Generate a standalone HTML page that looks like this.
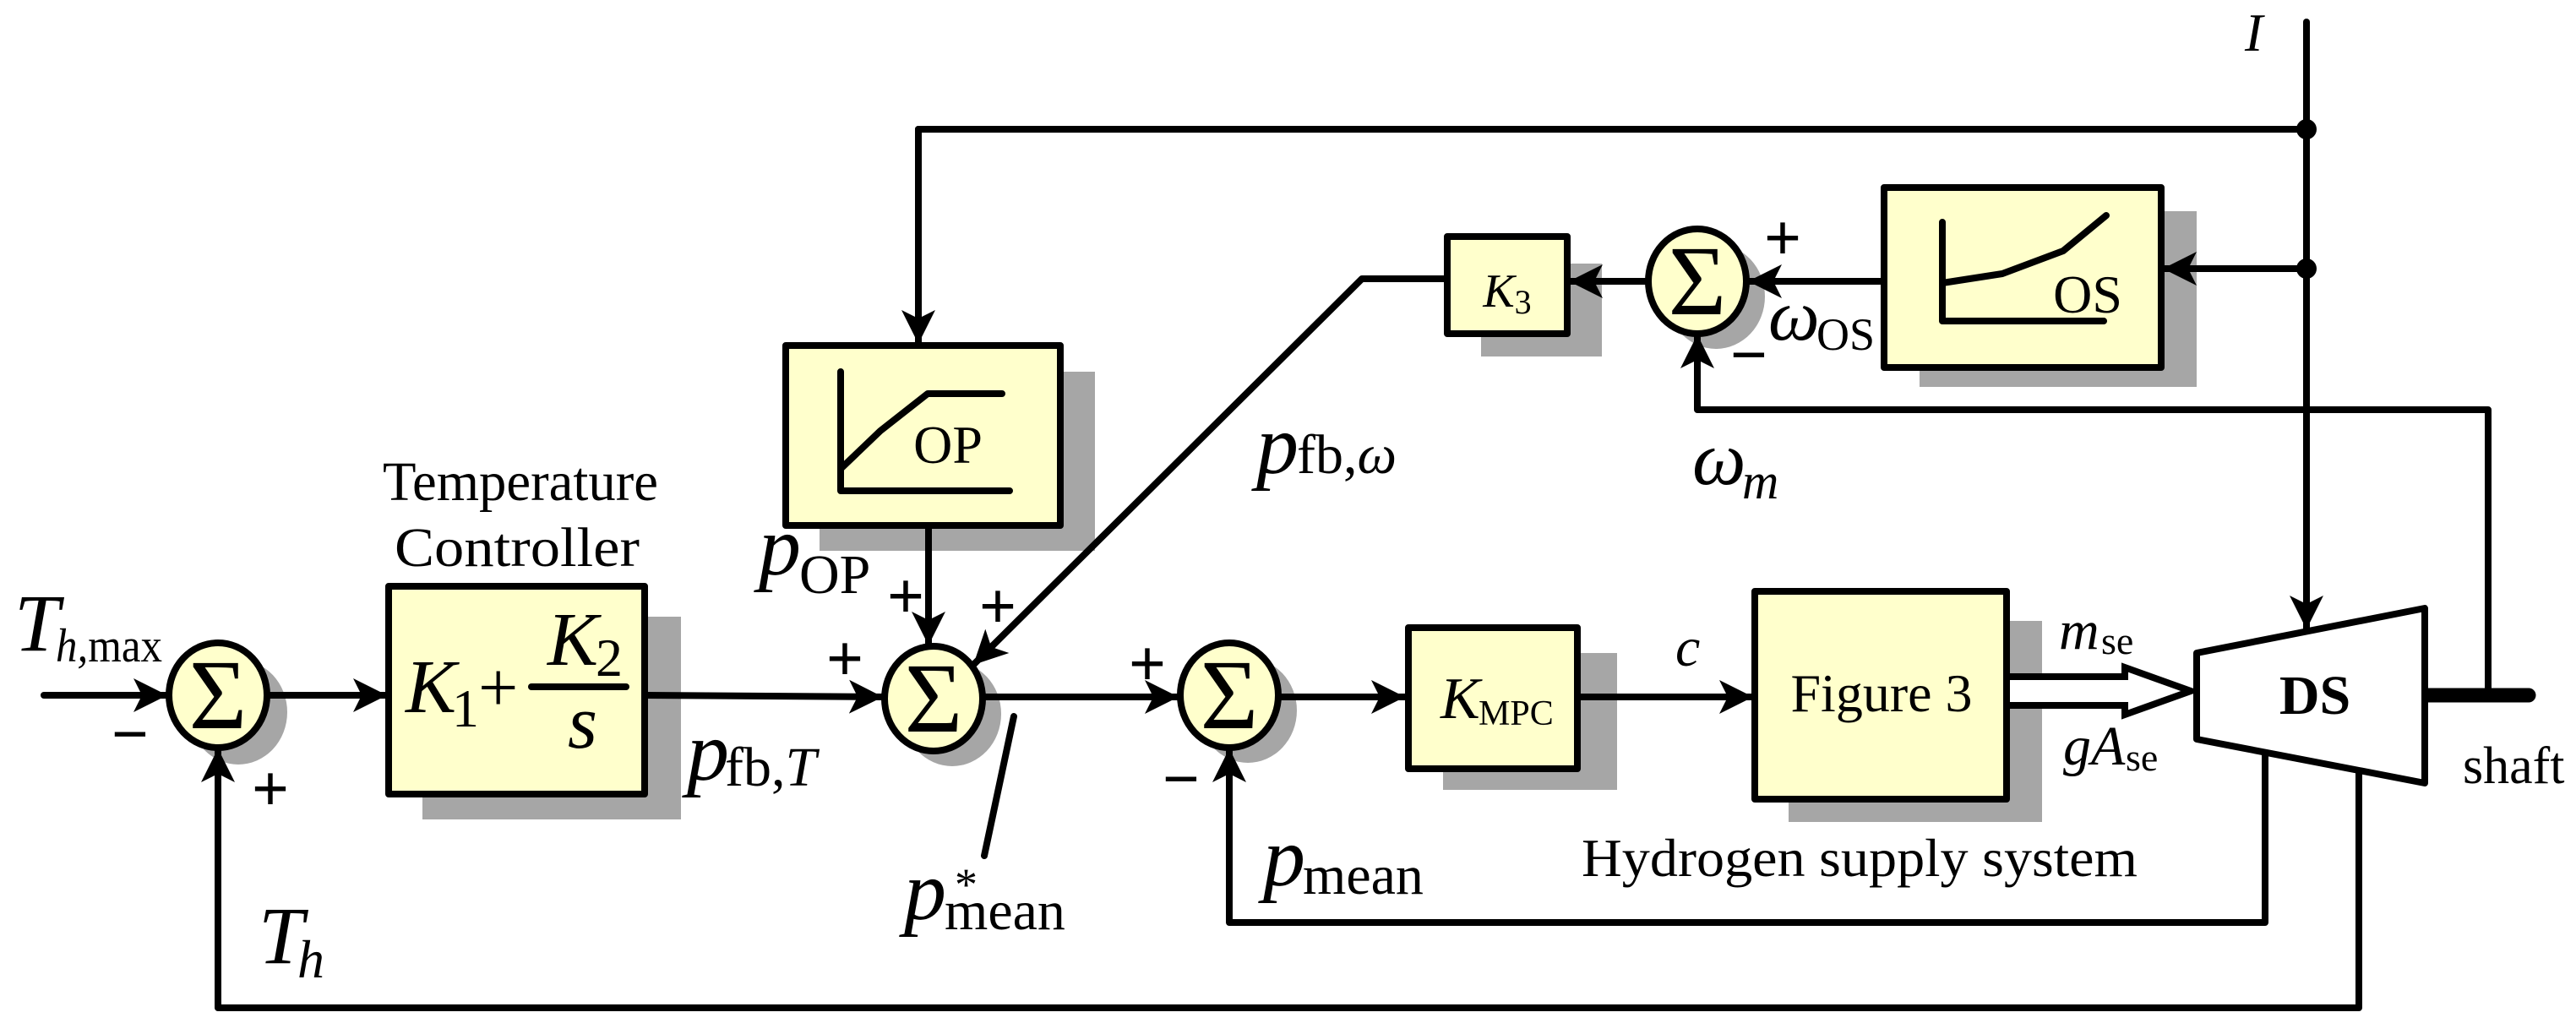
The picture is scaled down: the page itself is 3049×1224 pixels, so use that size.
<!DOCTYPE html>
<html><head><meta charset="utf-8"><style>
html,body{margin:0;padding:0;background:#fff;}
svg{display:block;}
text{font-family:"Liberation Serif",serif;fill:#000;}
.it{font-style:italic;}
.pm{font-family:"Liberation Sans",sans-serif;font-weight:bold;}
</style></head><body>
<svg width="3049" height="1224" viewBox="0 0 3049 1224" xmlns="http://www.w3.org/2000/svg">
<defs>
<marker id="a" viewBox="0 0 40 40" refX="40" refY="20" markerWidth="40" markerHeight="40" markerUnits="userSpaceOnUse" orient="auto">
<path d="M0,0 L40,20 L0,40 L10,20 Z" fill="#000"/>
</marker>
</defs>
<g fill="#a6a6a6">
<rect x="500" y="730" width="306" height="240"/>
<rect x="970" y="440" width="326" height="212"/>
<rect x="1753" y="312" width="143" height="110"/>
<rect x="2272" y="250" width="328" height="208"/>
<rect x="1708" y="773" width="206" height="162"/>
<rect x="2117" y="735" width="300" height="238"/>
<ellipse cx="282" cy="843" rx="58" ry="62"/>
<ellipse cx="1127" cy="845" rx="58" ry="62"/>
<ellipse cx="1477" cy="841" rx="58" ry="62"/>
<ellipse cx="2031" cy="351" rx="58" ry="62"/>
</g>
<g stroke="#000" stroke-width="8" fill="none" stroke-linejoin="round" stroke-linecap="round">
<line x1="52" y1="823" x2="198" y2="823" marker-end="url(#a)"/>
<line x1="318" y1="823" x2="458" y2="823" marker-end="url(#a)"/>
<line x1="765" y1="823" x2="1045" y2="825" marker-end="url(#a)"/>
<line x1="1165" y1="825" x2="1395" y2="825" marker-end="url(#a)"/>
<line x1="1515" y1="825" x2="1663" y2="825" marker-end="url(#a)"/>
<line x1="1869" y1="825" x2="2075" y2="825" marker-end="url(#a)"/>
<polyline points="1087,153 2730,153"/>
<line x1="1087" y1="153" x2="1087" y2="407" marker-end="url(#a)"/>
<line x1="1099" y1="624" x2="1099" y2="764" marker-end="url(#a)"/>
<polyline points="1711,330 1612,330 1152,787" marker-end="url(#a)"/>
<line x1="2730" y1="26" x2="2730" y2="745" marker-end="url(#a)"/>
<line x1="2730" y1="318" x2="2560" y2="318" marker-end="url(#a)"/>
<line x1="2228" y1="333" x2="2069" y2="333" marker-end="url(#a)"/>
<line x1="1950" y1="333" x2="1857" y2="333" marker-end="url(#a)"/>
<polyline points="2945,823 2945,485 2009,485 2009,396" marker-end="url(#a)"/>
<polyline points="2681,891 2681,1092 1455,1092 1455,886" marker-end="url(#a)"/>
<polyline points="2792,912 2792,1193 258,1193 258,886" marker-end="url(#a)"/>
<line x1="1200" y1="848" x2="1165" y2="1013"/>
</g>
<line x1="2870" y1="823" x2="2993" y2="823" stroke="#000" stroke-width="17" stroke-linecap="round"/>
<circle cx="2730" cy="153" r="12" fill="#000"/>
<circle cx="2730" cy="318" r="12" fill="#000"/>
<path d="M2375,801 L2515,801 L2515,790 L2593,818 L2515,846 L2515,835 L2375,835" fill="#fff" stroke="#000" stroke-width="8" stroke-linejoin="miter"/>
<g fill="#ffffcc" stroke="#000" stroke-width="8" stroke-linejoin="round">
<rect x="460" y="694" width="303" height="246"/>
<rect x="930" y="409" width="325" height="213"/>
<rect x="1713" y="280" width="142" height="115"/>
<rect x="2230" y="222" width="328" height="213"/>
<rect x="1667" y="743" width="200" height="167"/>
<rect x="2077" y="700" width="298" height="246"/>
<ellipse cx="258" cy="823" rx="58" ry="62"/>
<ellipse cx="1105" cy="827" rx="58" ry="62"/>
<ellipse cx="1455" cy="823" rx="58" ry="62"/>
<ellipse cx="2009" cy="333" rx="58" ry="62"/>
</g>
<polygon points="2600,773 2870,720 2870,927 2600,875" fill="#fff" stroke="#000" stroke-width="8" stroke-linejoin="round"/>
<g stroke="#000" stroke-width="8" fill="none" stroke-linecap="round" stroke-linejoin="round">
<polyline points="995,440 995,581 1195,581"/>
<polyline points="995,555 1042,510 1098,466 1186,466"/>
<polyline points="2299,263 2299,380 2490,380"/>
<polyline points="2299,335 2370,324 2442,297 2493,255"/>
<line x1="629" y1="813" x2="741" y2="813"/>
</g>
<g font-size="118" text-anchor="middle">
<text x="258" y="862">Σ</text>
<text x="1105" y="866">Σ</text>
<text x="1455" y="862">Σ</text>
<text x="2009" y="372">Σ</text>
</g>
<text x="616" y="592" font-size="66" text-anchor="middle" textLength="326" lengthAdjust="spacingAndGlyphs">Temperature</text>
<text x="612" y="670" font-size="66" text-anchor="middle" textLength="290" lengthAdjust="spacingAndGlyphs">Controller</text>
<text x="480" y="843" font-size="90" class="it">K</text><text x="535" y="860" font-size="64">1</text>
<text x="566" y="842" font-size="84">+</text>
<text x="648" y="787" font-size="90" class="it">K</text><text x="705" y="800" font-size="64">2</text>
<text x="672" y="885" font-size="90" class="it">s</text>
<text x="1122" y="548" font-size="64" text-anchor="middle">OP</text>
<text x="2471" y="370" font-size="64" text-anchor="middle">OS</text>
<text x="1784" y="363" font-size="56" text-anchor="middle"><tspan class="it">K</tspan><tspan font-size="40" dy="8">3</tspan></text>
<text x="1705" y="850" font-size="70" class="it">K</text><text x="1750" y="858" font-size="42">MPC</text>
<text x="2227" y="842" font-size="64" text-anchor="middle">Figure 3</text>
<text x="2201" y="1037" font-size="64" text-anchor="middle" textLength="658" lengthAdjust="spacingAndGlyphs">Hydrogen supply system</text>
<text x="2740" y="845" font-size="66" font-weight="bold" text-anchor="middle">DS</text>
<text x="2915" y="927" font-size="62">shaft</text>
<text x="2657" y="60" font-size="64" class="it">I</text>
<text x="1983" y="788" font-size="66" class="it">c</text>
<text x="2437" y="768" font-size="66" class="it">m</text><text x="2487" y="774" font-size="46">se</text>
<text x="2442" y="905" font-size="66" class="it">gA</text><text x="2516" y="912" font-size="46">se</text>
<text x="2003" y="573" font-size="90" class="it">ω</text><text x="2062" y="590" font-size="60" class="it">m</text>
<text x="2093" y="402" font-size="86" class="it">ω</text><text x="2150" y="414" font-size="54">OS</text>
<text x="17" y="770" font-size="96" class="it">T</text><text x="66" y="783" font-size="56" textLength="126" lengthAdjust="spacingAndGlyphs"><tspan class="it">h,</tspan>max</text>
<text x="306" y="1140" font-size="96" class="it">T</text><text x="352" y="1157" font-size="64" class="it">h</text>
<text x="813" y="923" font-size="100" class="it">p</text><text x="858" y="930" font-size="66">fb,<tspan class="it">T</tspan></text>
<text x="898" y="680" font-size="100" class="it">p</text><text x="946" y="702" font-size="66">OP</text>
<text x="1487" y="560" font-size="100" class="it">p</text><text x="1535" y="560" font-size="66">fb,<tspan class="it">ω</tspan></text>
<text x="1070" y="1088" font-size="100" class="it">p</text><text x="1118" y="1100" font-size="66">mean</text><text x="1130" y="1065" font-size="54">*</text>
<text x="1495" y="1048" font-size="100" class="it">p</text><text x="1542" y="1058" font-size="66">mean</text>
<g font-size="78" class="pm" text-anchor="middle">
<text x="154" y="895">−</text>
<text x="320" y="960">+</text>
<text x="1072" y="732">+</text>
<text x="1181" y="744">+</text>
<text x="1000" y="806">+</text>
<text x="1358" y="812">+</text>
<text x="1398" y="948">−</text>
<text x="2110" y="308">+</text>
<text x="2070" y="446">−</text>
</g>
</svg>
</body></html>
